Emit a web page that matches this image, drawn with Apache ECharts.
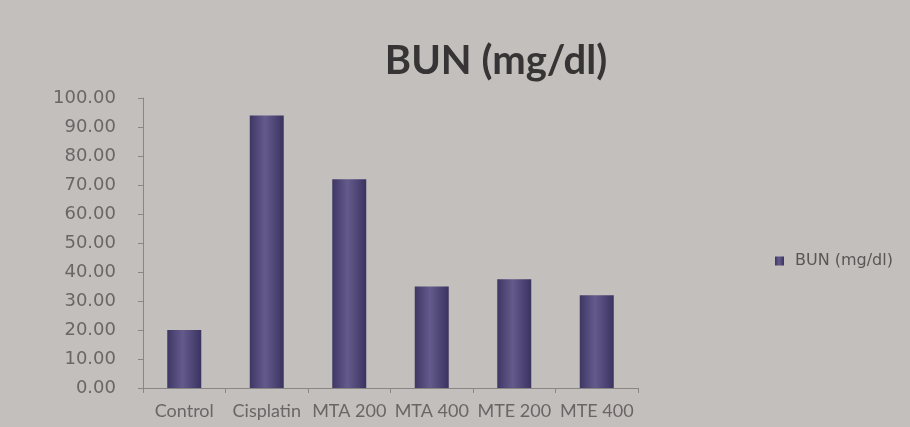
<!DOCTYPE html>
<html><head><meta charset="utf-8">
<script src="https://cdn.jsdelivr.net/npm/echarts@6/dist/echarts.min.js"></script>
<style>html,body{margin:0;padding:0;background:#c3bfbd;}#c{width:910px;height:427px;}</style>
</head><body><div id="c"></div>
<script>
const categories = ['Control', 'Cisplatin', 'MTA 200', 'MTA 400', 'MTE 200', 'MTE 400'];
const bunValues = [20.0, 94.0, 72.0, 35.0, 37.5, 32.0];
const yTicks = [0, 10, 20, 30, 40, 50, 60, 70, 80, 90, 100];
const seriesName = 'BUN (mg/dl)';

const chart = echarts.init(document.getElementById('c'));
chart.setOption({
  backgroundColor: '#c3bfbd',
  animation: false,
  title: {
    text: 'BUN (mg/dl)', left: 491, top: 36, textAlign: 'center',
    textStyle: { fontFamily: 'Lato', fontWeight: 'bold', fontSize: 40, color: '#363434' }
  },
  legend: {
    data: [seriesName], left: 770, top: 248, itemWidth: 9, itemHeight: 9, icon: 'rect', itemGap: 4,
    textStyle: { fontFamily: 'DejaVu Sans', fontSize: 16, color: '#5a5656', padding: [0, 0, 0, 6] }
  },
  grid: { left: 143, right: 272, top: 98, bottom: 39 },
  xAxis: {
    type: 'category', data: categories,
    axisLine: { lineStyle: { color: '#8a8686' } },
    axisTick: { show: true, lineStyle: { color: '#8a8686' } },
    axisLabel: { fontFamily: 'Lato', fontSize: 18, color: '#6a6666', margin: 14, interval: 0 }
  },
  yAxis: {
    type: 'value', min: yTicks[0], max: yTicks[yTicks.length - 1], interval: 10,
    axisLine: { show: true, lineStyle: { color: '#8a8686' } },
    axisTick: { show: true, length: 5, lineStyle: { color: '#8a8686' } },
    splitLine: { show: false },
    axisLabel: { fontFamily: 'DejaVu Sans', fontSize: 18, color: '#6a6666', margin: 27,
      formatter: v => v.toFixed(2) }
  },
  series: [{
    name: seriesName, type: 'bar', data: bunValues, barWidth: 34,
    itemStyle: {
      color: new echarts.graphic.LinearGradient(0, 0, 1, 0, [
        { offset: 0, color: '#3e3764' },
        { offset: 0.45, color: '#645b8c' },
        { offset: 1, color: '#3a3360' }
      ])
    }
  }]
});
</script></body></html>
